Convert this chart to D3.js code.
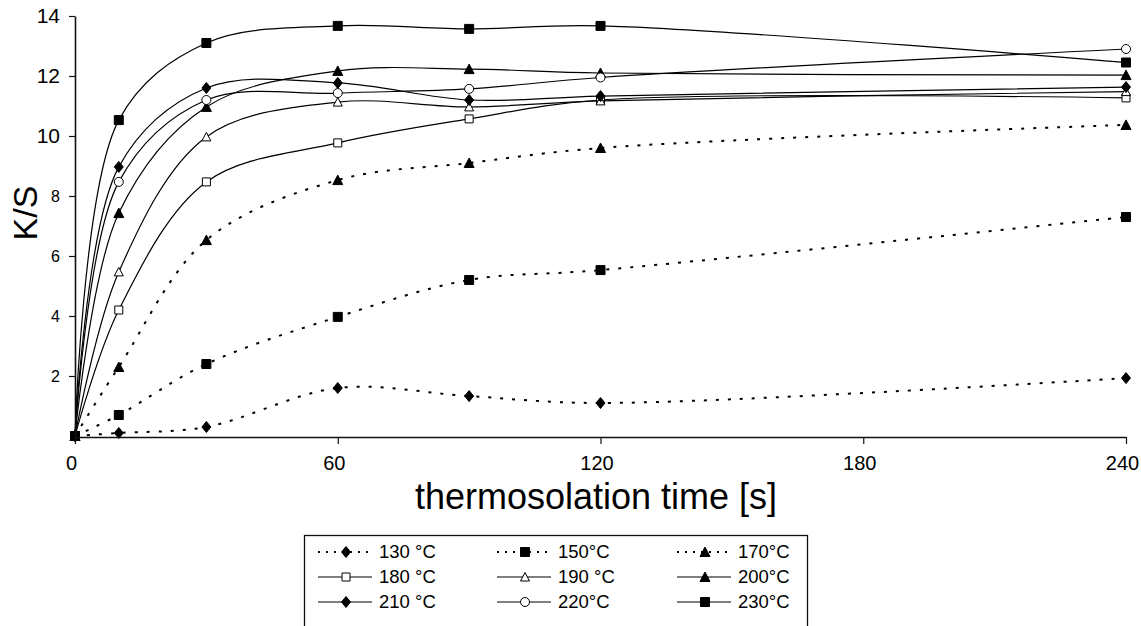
<!DOCTYPE html>
<html>
<head>
<meta charset="utf-8">
<script src="https://cdnjs.cloudflare.com/ajax/libs/d3/7.8.5/d3.min.js"></script>
<style>
  body { margin: 0; background: #fff; }
  text { font-family: "Liberation Sans", Arial, sans-serif; fill: #000; }
</style>
</head>
<body>
<div id="chart"></div>
<script>
const width = 1141;
const height = 626;

// thermosolation time [s]
const times = [0, 10, 30, 60, 90, 120, 240];
const xTicks = [0, 60, 120, 180, 240];
const yTicks = [2, 4, 6, 8, 10, 12, 14];

// K/S readings per temperature
const k130 = [0, 0.1, 0.3, 1.6, 1.33, 1.1, 1.93];
const k150 = [0, 0.7, 2.4, 3.97, 5.2, 5.53, 7.3];
const k170 = [0, 2.3, 6.53, 8.53, 9.1, 9.6, 10.37];
const k180 = [0, 4.2, 8.47, 9.77, 10.57, 11.2, 11.27];
const k190 = [0, 5.47, 9.97, 11.13, 10.97, 11.17, 11.48];
const k200 = [0, 7.43, 10.97, 12.17, 12.23, 12.1, 12.03];
const k210 = [0, 8.97, 11.6, 11.77, 11.2, 11.33, 11.63];
const k220 = [0, 8.47, 11.2, 11.43, 11.57, 11.95, 12.9];
const k230 = [0, 10.53, 13.1, 13.67, 13.57, 13.67, 12.45];

const labels = ["130 °C", "150°C", "170°C", "180 °C", "190 °C", "200°C", "210 °C", "220°C", "230°C"];

const series = [
    { label: labels[0], values: k130, dotted: true,  marker: "diamond",  filled: true },
    { label: labels[1], values: k150, dotted: true,  marker: "square",   filled: true },
    { label: labels[2], values: k170, dotted: true,  marker: "triangle", filled: true },
    { label: labels[3], values: k180, dotted: false, marker: "square",   filled: false },
    { label: labels[4], values: k190, dotted: false, marker: "triangle", filled: false },
    { label: labels[5], values: k200, dotted: false, marker: "triangle", filled: true },
    { label: labels[6], values: k210, dotted: false, marker: "diamond",  filled: true },
    { label: labels[7], values: k220, dotted: false, marker: "circle",   filled: false },
    { label: labels[8], values: k230, dotted: false, marker: "square",   filled: true }
];

const margin = { top: 16, right: 15, bottom: 190, left: 75 };

const svg = d3.select("#chart")
    .append("svg")
    .attr("width", width)
    .attr("height", height);

const x = d3.scaleLinear().domain([0, 240]).range([margin.left, 1126]);
const y = d3.scaleLinear().domain([0, 14]).range([436, margin.top]);

// marker path centred on 0,0
function markerPath(type, s) {
    const h = s / 2;
    if (type === "square") return `M${-h},${-h}H${h}V${h}H${-h}Z`;
    if (type === "diamond") return `M0,${-h - 1}L${h},0L0,${h + 1}L${-h},0Z`;
    if (type === "triangle") return `M0,${-h - 0.5}L${h + 0.5},${h}L${-h - 0.5},${h}Z`;
    return d3.path().toString();
}

function drawMarker(sel, s, size) {
    if (s.marker === "circle") {
        sel.append("circle")
            .attr("r", size / 2)
            .attr("fill", "#fff")
            .attr("stroke", "#000")
            .attr("stroke-width", 1);
    } else {
        sel.append("path")
            .attr("d", markerPath(s.marker, s.filled ? size : size - 1))
            .attr("fill", s.filled ? "#000" : "#fff")
            .attr("stroke", "#000")
            .attr("stroke-width", 1);
    }
}

const line = d3.line()
    .x((d, i) => x(times[i]))
    .y(d => y(d))
    .curve(d3.curveCatmullRom.alpha(0.5));

const plot = svg.append("g");

series.forEach(s => {
    plot.append("path")
        .attr("d", line(s.values))
        .attr("fill", "none")
        .attr("stroke", "#000")
        .attr("stroke-width", s.dotted ? 2 : 1.2)
        .attr("stroke-dasharray", s.dotted ? "3,9" : null);

    plot.selectAll(null)
        .data(s.values)
        .enter().append("g")
        .attr("transform", (d, i) => `translate(${x(times[i])},${y(d)})`)
        .each(function() { drawMarker(d3.select(this), s, 9); });
});

// axes
const xAxis = svg.append("g")
    .attr("transform", `translate(0,${y(0) + 1})`)
    .call(d3.axisBottom(x).tickValues(xTicks).tickSize(7).tickSizeOuter(0).tickPadding(12));
xAxis.select(".domain").attr("stroke", "#111").attr("stroke-width", 1.6);
xAxis.selectAll(".tick line").attr("stroke", "#111").attr("stroke-width", 1.2);
xAxis.selectAll(".tick text")
    .attr("x", -4)
    .style("font-size", "20px")
    .style("font-family", "'Liberation Sans', Arial, sans-serif");

const yAxis = svg.append("g")
    .attr("transform", `translate(${margin.left},0)`)
    .call(d3.axisLeft(y).tickValues(yTicks).tickSize(6).tickSizeOuter(0).tickPadding(9));
yAxis.select(".domain").attr("stroke", "#111").attr("stroke-width", 1.6);
yAxis.selectAll(".tick line").attr("stroke", "#111").attr("stroke-width", 1.2);
yAxis.selectAll(".tick text")
    .style("font-size", d => d >= 10 ? "21px" : "16px")
    .style("font-family", "'Liberation Sans', Arial, sans-serif");

// axis titles
svg.append("text")
    .attr("transform", `translate(37,213) rotate(-90)`)
    .attr("text-anchor", "middle")
    .style("font-size", "34px")
    .text("K/S");

svg.append("text")
    .attr("x", 596)
    .attr("y", 509)
    .attr("text-anchor", "middle")
    .style("font-size", "36px")
    .text("thermosolation time [s]");

// legend
const legend = svg.append("g");
legend.append("rect")
    .attr("x", 304.5)
    .attr("y", 535.5)
    .attr("width", 503)
    .attr("height", 120)
    .attr("fill", "#fff")
    .attr("stroke", "#111")
    .attr("stroke-width", 1.3);

const colX = [318, 497, 677];
const rowY = [552, 577, 602];

series.forEach((s, i) => {
    const lx = colX[i % 3];
    const ly = rowY[Math.floor(i / 3)];
    const item = legend.append("g").attr("transform", `translate(${lx},${ly})`);
    item.append("line")
        .attr("x1", 0).attr("x2", 54)
        .attr("stroke", "#000")
        .attr("stroke-width", s.dotted ? 2 : 1.2)
        .attr("stroke-dasharray", s.dotted ? "2,6" : null);
    const m = item.append("g").attr("transform", "translate(28,0)");
    drawMarker(m, s, 9);
    item.append("text")
        .attr("x", 61)
        .attr("y", 6)
        .style("font-size", "18.5px")
        .text(s.label);
});
</script>
</body>
</html>
